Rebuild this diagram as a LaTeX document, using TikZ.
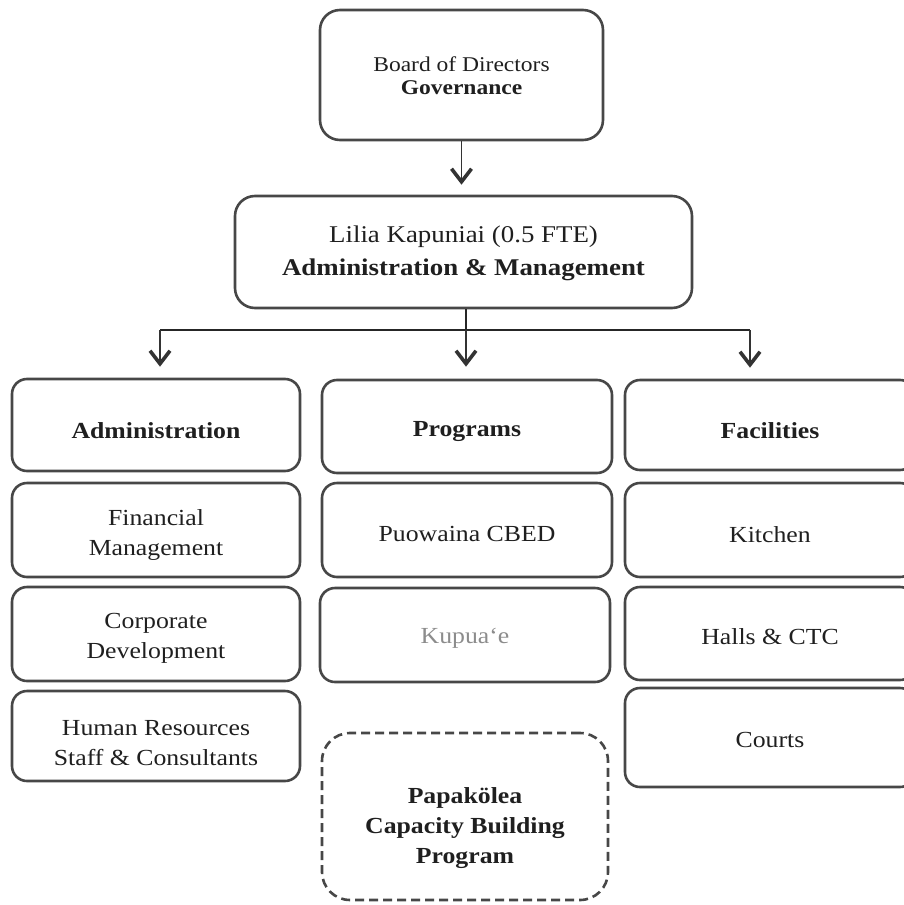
\documentclass[tikz,border=0pt]{standalone}
\usepackage{fontspec}
\setmainfont{Liberation Serif}[FakeStretch=1.12]
\usetikzlibrary{arrows.meta}
\tikzset{
  box/.style={draw=black!72, line width=2.6pt, rounded corners=15pt, inner sep=0pt},
  dbox/.style={box, dash pattern=on 9pt off 5pt, rounded corners=28pt},
  tx/.style={align=center, inner sep=0pt, text=black!88, font=\fontsize{23}{30}\selectfont},
  conn/.style={draw=black!85, line width=1.3pt},
  arr/.style={conn, -{Straight Barb[length=13pt,width=20pt,line width=3.6pt]}, draw=black!80},
}
\begin{document}
\begin{tikzpicture}[x=1pt,y=1pt]
\useasboundingbox (0,0) rectangle (903,-905);
% top
\node[box, rounded corners=20pt, minimum width=283pt, minimum height=130pt,
  label={[tx, font=\fontsize{21}{23}\selectfont, yshift=-1pt]center:{Board of Directors\\\textbf{Governance}}}] (board) at (461.5,-75) {};
\node[box, rounded corners=20pt, minimum width=457pt, minimum height=112pt,
  label={[tx, font=\fontsize{24}{33}\selectfont, yshift=-1pt]center:{Lilia Kapuniai (0.5 FTE)\\\textbf{Administration \& Management}}}] (lilia) at (463.5,-252) {};
% column 1
\node[box, minimum width=288pt, minimum height=92pt, label={[tx, yshift=-6pt]center:{\textbf{Administration}}}] (adm) at (156,-425) {};
\node[box, minimum width=288pt, minimum height=94pt, label={[tx, yshift=-5pt]center:{Financial\\Management}}] (fin) at (156,-530) {};
\node[box, minimum width=288pt, minimum height=94pt, label={[tx, yshift=-4pt]center:{Corporate\\Development}}] (corp) at (156,-634) {};
\node[box, minimum width=288pt, minimum height=90pt, label={[tx, yshift=-7pt]center:{Human Resources\\Staff \& Consultants}}] (hr) at (156,-736) {};
% column 2
\node[box, minimum width=290pt, minimum height=93pt, label={[tx, yshift=-5pt]center:{\textbf{Programs}}}] (prog) at (467,-426.5) {};
\node[box, minimum width=290pt, minimum height=94pt, label={[tx, yshift=-4pt]center:{Puowaina CBED}}] (puo) at (467,-530) {};
\node[box, minimum width=290pt, minimum height=94pt, label={[tx, yshift=-3pt, text=black!45]center:{Kupua‘e}}] (kup) at (465,-635) {};
\node[dbox, minimum width=286pt, minimum height=167pt,
  label={[tx, yshift=-12pt]center:{\textbf{Papakölea}\\\textbf{Capacity Building}\\\textbf{Program}}}] (pap) at (465,-816.5) {};
% column 3
\node[box, minimum width=290pt, minimum height=90pt, label={[tx, yshift=-6pt]center:{\textbf{Facilities}}}] (fac) at (770,-425) {};
\node[box, minimum width=290pt, minimum height=94pt, label={[tx, yshift=-5pt]center:{Kitchen}}] (kit) at (770,-530) {};
\node[box, minimum width=290pt, minimum height=93pt, label={[tx, yshift=-3pt]center:{Halls \& CTC}}] (hall) at (770,-633.5) {};
\node[box, minimum width=290pt, minimum height=99pt, label={[tx, yshift=-2pt]center:{Courts}}] (court) at (770,-737.5) {};
% connectors
\draw[arr, shorten >=10pt] (board.south) -- (board.south |- lilia.north);
\coordinate (jm) at (466,-330);
\coordinate (jl) at (160,-330);
\coordinate (jr) at (750,-330);
\draw[conn] (lilia.south -| jm) -- (jm);
\draw[conn] (jl) -- (jr);
\draw[arr, shorten >=11pt] (jl) -- (jl |- adm.north);
\draw[arr, shorten >=12pt] (jm) -- (jm |- prog.north);
\draw[arr, shorten >=11pt] (jr) -- (jr |- fac.north);
\end{tikzpicture}
\end{document}
